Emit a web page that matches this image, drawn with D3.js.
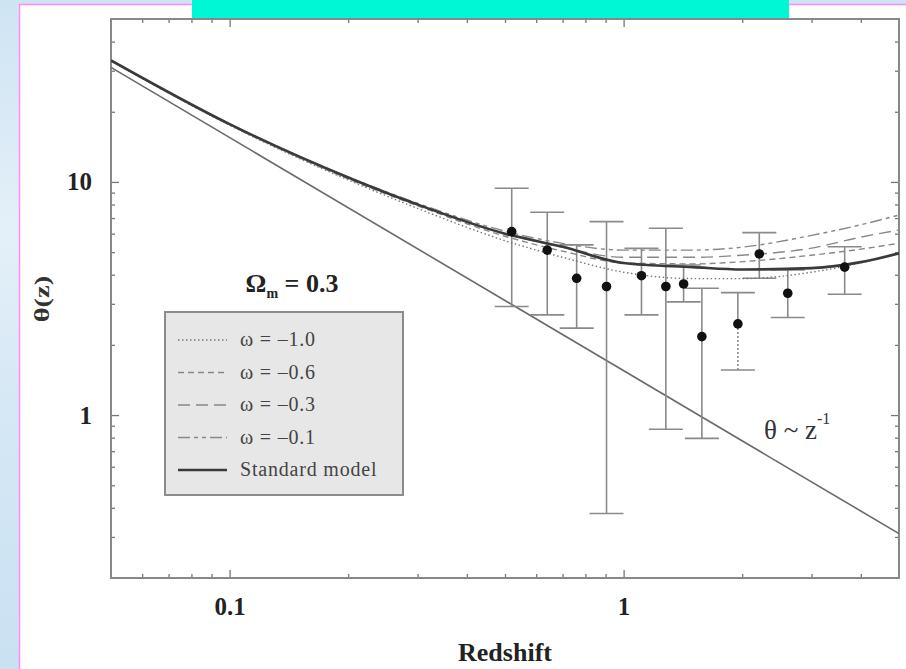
<!DOCTYPE html>
<html>
<head>
<meta charset="utf-8">
<script src="https://cdn.jsdelivr.net/npm/d3@7/dist/d3.min.js"></script>
<style>
  html, body { margin: 0; padding: 0; background: #cfe4f3; }
  svg { display: block; }
  text { font-family: "Liberation Serif", "DejaVu Serif", serif; }
</style>
</head>
<body>
<svg id="chart" width="906" height="669"></svg>
<script>
// model curves, sampled from the figure
const curveZ = [0.05, 0.1, 0.2, 0.3, 0.5, 0.7, 1.0, 1.5, 2.0, 3.0, 4.0, 5.0];
const standardModel = [33.2, 17.7, 10.45, 8.0, 6.0, 5.27, 4.49, 4.31, 4.21, 4.27, 4.53, 4.94];
const wMinus10 = [33.1, 17.5, 10.2, 7.7, 5.6, 4.75, 4.1, 3.85, 3.85, 4.1, 4.5, 4.95];
const wMinus06 = [33.2, 17.6, 10.3, 7.9, 5.85, 5.05, 4.5, 4.45, 4.55, 4.85, 5.15, 5.46];
const wMinus03 = [33.2, 17.6, 10.4, 8.0, 6.0, 5.25, 4.75, 4.75, 4.85, 5.2, 5.8, 6.22];
const wMinus01 = [33.2, 17.7, 10.5, 8.1, 6.15, 5.45, 5.1, 5.1, 5.25, 5.9, 6.55, 7.21];

// theta ~ z^-1 reference line
const powerZ = [0.05, 5];
const powerTheta = [31, 0.31];

// data points with error bars
const pointZ = [0.52, 0.64, 0.76, 0.905, 1.11, 1.28, 1.42, 1.58, 1.95, 2.21, 2.61, 3.64];
const pointTheta = [6.12, 5.10, 3.86, 3.56, 3.96, 3.56, 3.65, 2.17, 2.46, 4.91, 3.33, 4.31];
const errHigh = [9.4, 7.41, 5.37, 6.76, 5.19, 6.33, 4.40, 3.50, 3.35, 6.06, 4.19, 5.27];
const errLow = [2.92, 2.69, 2.36, 0.378, 2.69, 0.869, 3.06, 0.794, 1.56, 3.86, 2.62, 3.30];

const legendLabels = ["\u03c9 = \u20131.0", "\u03c9 = \u20130.6", "\u03c9 = \u20130.3", "\u03c9 = \u20130.1", "Standard model"];
const xTickValues = [0.1, 1];
const yTickValues = [1, 10];

const svg = d3.select("#chart");

// slide background
const defs = svg.append("defs");
const grad = defs.append("linearGradient")
  .attr("id", "side").attr("x1", 0).attr("y1", 0).attr("x2", 0).attr("y2", 1);
grad.append("stop").attr("offset", "0").attr("stop-color", "#cfe4f3");
grad.append("stop").attr("offset", "0.35").attr("stop-color", "#e4f0f9");
grad.append("stop").attr("offset", "0.6").attr("stop-color", "#d6e8f5");
grad.append("stop").attr("offset", "1").attr("stop-color", "#cae1f2");
svg.append("rect").attr("width", 906).attr("height", 669).attr("fill", "url(#side)");
svg.append("rect")
  .attr("x", 19.5).attr("y", 4.5).attr("width", 920).attr("height", 700)
  .attr("fill", "#fff").attr("stroke", "#ff8cff").attr("stroke-width", 1.5);
svg.append("rect")
  .attr("x", 192).attr("y", 0).attr("width", 597).attr("height", 19)
  .attr("fill", "#00f7d6");

const x = d3.scaleLog().domain([0.05, 5]).range([111, 899]);
const y = d3.scaleLog().domain([0.2, 50]).range([578, 19]);

const plot = svg.append("g");

// minor ticks
const xMinor = [0.06, 0.07, 0.08, 0.09, 0.2, 0.3, 0.4, 0.5, 0.6, 0.7, 0.8, 0.9, 2, 3, 4];
const yMinor = [0.3, 0.4, 0.5, 0.6, 0.7, 0.8, 0.9, 2, 3, 4, 5, 6, 7, 8, 9, 20, 30, 40];

function styleAxis(g) {
  g.select(".domain").remove();
  g.selectAll(".tick line").attr("stroke", "#777").attr("stroke-width", 1.3);
}

const addAxis = (axis, transform, labels) => {
  const g = plot.append("g").attr("transform", transform).call(axis).call(styleAxis);
  if (!labels) g.selectAll(".tick text").remove();
  return g;
};

addAxis(d3.axisBottom(x).tickValues(xMinor).tickSize(-4), "translate(0,578)", false);
addAxis(d3.axisTop(x).tickValues(xMinor).tickSize(-4), "translate(0,19)", false);
addAxis(d3.axisLeft(y).tickValues(yMinor).tickSize(-4), "translate(111,0)", false);
addAxis(d3.axisRight(y).tickValues(yMinor).tickSize(-4), "translate(899,0)", false);

const xAxis = addAxis(d3.axisBottom(x).tickValues(xTickValues).tickSize(-8).tickPadding(19)
  .tickFormat(d3.format("")), "translate(0,578)", true);
addAxis(d3.axisTop(x).tickValues(xTickValues).tickSize(-8), "translate(0,19)", false);
const yAxis = addAxis(d3.axisLeft(y).tickValues(yTickValues).tickSize(-8).tickPadding(19)
  .tickFormat(d3.format("")), "translate(111,0)", true);
addAxis(d3.axisRight(y).tickValues(yTickValues).tickSize(-8), "translate(899,0)", false);

[xAxis, yAxis].forEach((g) => g.selectAll(".tick text")
  .attr("font-family", "Liberation Serif").attr("font-weight", "bold")
  .attr("font-size", 25).attr("fill", "#222"));

// frame
plot.append("rect")
  .attr("x", 111).attr("y", 19).attr("width", 788).attr("height", 559)
  .attr("fill", "none").attr("stroke", "#888").attr("stroke-width", 2);

// clip for curves
defs.append("clipPath").attr("id", "clip")
  .append("rect").attr("x", 111).attr("y", 19).attr("width", 788).attr("height", 559);
const inner = plot.append("g").attr("clip-path", "url(#clip)");

// theta ~ z^-1
inner.append("path")
  .datum(powerZ.map((z, i) => ({ z, t: powerTheta[i] })))
  .attr("d", d3.line().x((d) => x(d.z)).y((d) => y(d.t)))
  .attr("fill", "none").attr("stroke", "#6a6a6a").attr("stroke-width", 1.6);

const series = [
  { values: wMinus10, dash: "1.5,2.5", color: "#777", width: 1.4 },
  { values: wMinus06, dash: "6,4", color: "#888", width: 1.4 },
  { values: wMinus03, dash: "12,6", color: "#888", width: 1.4 },
  { values: wMinus01, dash: "12,4,4,4,4,4", color: "#888", width: 1.4 },
  { values: standardModel, dash: null, color: "#3a3a3a", width: 2.6 }
];

const curveLine = d3.line().x((d) => x(d.z)).y((d) => y(d.t)).curve(d3.curveMonotoneX);

// error bars
const bars = inner.append("g");
pointZ.forEach((z, i) => {
  const cx = x(z);
  const dottedLow = i === 8;
  bars.append("line")
    .attr("x1", cx).attr("x2", cx).attr("y1", y(errHigh[i])).attr("y2", y(pointTheta[i]))
    .attr("stroke", "#8a8a8a").attr("stroke-width", 1.6);
  bars.append("line")
    .attr("x1", cx).attr("x2", cx).attr("y1", y(pointTheta[i])).attr("y2", y(errLow[i]))
    .attr("stroke", "#8a8a8a").attr("stroke-width", 1.6)
    .attr("stroke-dasharray", dottedLow ? "2,2" : null);
  [errHigh[i], errLow[i]].forEach((v) => {
    bars.append("line")
      .attr("x1", cx - 17).attr("x2", cx + 17).attr("y1", y(v)).attr("y2", y(v))
      .attr("stroke", "#8a8a8a").attr("stroke-width", 1.6);
  });
});

series.forEach((s) => {
  inner.append("path")
    .datum(curveZ.map((z, i) => ({ z, t: s.values[i] })))
    .attr("d", curveLine)
    .attr("fill", "none")
    .attr("stroke", s.color)
    .attr("stroke-width", s.width)
    .attr("stroke-dasharray", s.dash);
});

inner.append("g").selectAll("circle")
  .data(pointZ)
  .join("circle")
  .attr("cx", (d) => x(d))
  .attr("cy", (d, i) => y(pointTheta[i]))
  .attr("r", 4.8)
  .attr("fill", "#111");

// legend
const legend = svg.append("g");
const title = legend.append("text")
  .attr("x", 292).attr("y", 292).attr("text-anchor", "middle")
  .attr("font-size", 26).attr("font-weight", "bold").attr("fill", "#222");
title.append("tspan").text("\u03a9");
title.append("tspan").attr("font-size", 14).attr("dy", 6).text("m");
title.append("tspan").attr("dy", -6).text(" = 0.3");

legend.append("rect")
  .attr("x", 165).attr("y", 312).attr("width", 238).attr("height", 183)
  .attr("fill", "#e7e7e7").attr("stroke", "#8c8c8c").attr("stroke-width", 2);

series.forEach((s, i) => {
  const ly = 340 + i * 32.5;
  legend.append("line")
    .attr("x1", 178).attr("x2", 227).attr("y1", ly).attr("y2", ly)
    .attr("stroke", s.color).attr("stroke-width", s.width)
    .attr("stroke-dasharray", s.dash);
  legend.append("text")
    .attr("x", 240).attr("y", ly + 6)
    .attr("font-size", 20).attr("letter-spacing", 0.8).attr("fill", "#444")
    .text(legendLabels[i]);
});

// annotation
const ann = svg.append("text")
  .attr("x", 764).attr("y", 439).attr("font-size", 27).attr("fill", "#333");
ann.append("tspan").text("\u03b8 ~ z");
ann.append("tspan").attr("font-size", 16).attr("dy", -15).text("-1");

// axis titles
svg.append("text")
  .attr("x", 505).attr("y", 661).attr("text-anchor", "middle")
  .attr("font-size", 26).attr("font-weight", "bold").attr("fill", "#222")
  .text("Redshift");
svg.append("text")
  .attr("transform", "translate(49,299) rotate(-90) scale(1.3,1)")
  .attr("text-anchor", "middle")
  .attr("font-size", 22).attr("font-weight", "bold").attr("fill", "#333")
  .text("\u03b8(z)");
</script>
</body>
</html>
